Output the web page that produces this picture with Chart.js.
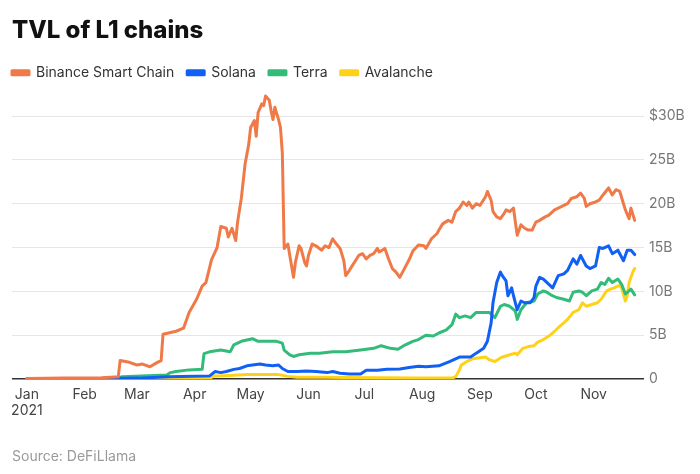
<!DOCTYPE html>
<html>
<head>
<meta charset="utf-8">
<script src="https://cdn.jsdelivr.net/npm/chart.js@4.4.1/dist/chart.umd.min.js"></script>
<style>
  body { margin: 0; background: #fff; }
  #wrap { position: relative; width: 700px; height: 474px; }
  #source {
    position: absolute; left: 12px; top: 447px;
    font: 14px Inter, "Noto Sans", sans-serif; color: #9a9a9a;
  }
</style>
</head>
<body>
<div id="wrap">
  <canvas id="myChart" width="700" height="474"></canvas>
  <div id="source">Source: DeFiLlama</div>
</div>
<script>
// points are [day since 1 Jan 2021, TVL in $B]
const bscPoints = [
  [0,0.05],[20,0.1],[40,0.15],[49,0.25],[50,2.1],[55,1.9],[59,1.6],[62,1.7],[66,1.4],[70,1.9],
  [72,2.1],[73,5.1],[80,5.45],[84,5.8],[87,7.6],[91,9.1],[94,10.6],[96,11.0],[99,13.6],[102,15.0],
  [104,17.4],[107,17.2],[108,16.2],[110,17.2],[112,15.8],[113,17.9],[115,20.6],[117,24.5],[119,26.8],[120,28.7],
  [122,29.5],[123,27.7],[124,30.4],[126,31.4],[127,31.2],[128,32.3],[130,31.8],[131,30.6],[132,29.6],[133,31.0],
  [135,29.6],[136,28.7],[137,25.8],[138,14.9],[140,15.4],[141,14.1],[143,11.6],[144,13.3],[146,15.2],[147,14.9],
  [149,13.3],[150,12.9],[151,14.1],[153,15.4],[155,15.2],[158,14.7],[160,15.2],[162,15.0],[164,16.0],[166,15.4],
  [168,14.9],[170,13.5],[171,11.8],[173,12.4],[175,13.1],[178,14.1],[180,14.3],[182,13.7],[184,14.1],[186,14.3],
  [188,14.9],[189,14.5],[192,14.9],[194,13.7],[196,12.6],[198,12.2],[200,11.6],[202,12.4],[205,13.6],[207,14.6],
  [210,15.3],[213,15.2],[214,14.9],[217,16.0],[220,16.6],[221,17.0],[223,17.7],[226,18.1],[228,17.9],[230,19.1],
  [232,19.5],[234,20.2],[236,19.8],[237,20.2],[239,19.5],[241,20.0],[243,19.8],[246,20.8],[247,21.4],[249,20.4],
  [250,19.1],[252,18.5],[254,18.3],[256,18.9],[257,19.3],[259,19.1],[261,19.5],[262,17.9],[263,16.4],[265,17.6],
  [267,17.2],[269,17.0],[271,17.0],[273,17.9],[275,18.1],[278,18.5],[280,18.7],[283,19.3],[285,19.5],[288,19.8],
  [290,20.0],[292,20.6],[295,20.8],[297,21.2],[299,20.6],[300,19.7],[302,20.0],[305,20.2],[307,20.4],[309,21.0],
  [312,21.8],[314,21.0],[316,21.6],[318,21.4],[320,20.0],[321,19.3],[323,18.3],[324,19.5],[326,18.1]
];

const solanaPoints = [
  [0,0.02],[40,0.05],[60,0.1],[76,0.25],[90,0.3],[98,0.35],[101,0.85],[104,0.73],[107,0.85],[111,1.1],
  [114,1.2],[118,1.5],[121,1.6],[125,1.7],[128,1.6],[132,1.5],[135,1.6],[137,1.2],[140,0.85],[145,0.85],
  [150,0.9],[155,0.85],[161,0.73],[164,0.85],[168,0.65],[173,0.58],[179,0.58],[182,1.0],[188,1.0],[193,1.1],
  [200,1.15],[205,1.3],[210,1.45],[214,1.4],[221,1.5],[227,2.0],[232,2.5],[238,2.5],[241,2.95],[245,3.5],
  [247,4.3],[249,6.4],[250,8.7],[252,11.0],[254,12.2],[255,11.8],[257,11.2],[258,9.5],[260,10.4],[261,9.5],
  [263,7.9],[265,8.9],[267,8.7],[270,8.7],[272,9.3],[273,10.6],[275,11.6],[277,11.4],[280,10.8],[282,10.4],
  [285,11.8],[288,12.0],[290,12.4],[293,13.7],[295,13.1],[297,14.1],[300,12.9],[302,12.6],[305,12.9],[307,15.0],
  [309,14.9],[312,15.2],[314,14.3],[317,14.7],[320,13.5],[322,14.7],[324,14.7],[326,14.2]
];

const terraPoints = [
  [0,0.02],[49,0.05],[51,0.27],[75,0.45],[77,0.73],[80,0.85],[87,1.04],[94,1.1],[95,2.9],[98,3.1],
  [104,3.3],[109,3.1],[111,3.9],[115,4.3],[121,4.6],[124,4.3],[129,4.3],[134,4.3],[137,4.1],[138,3.3],
  [141,2.76],[143,2.57],[146,2.76],[152,2.95],[157,2.95],[164,3.1],[171,3.1],[179,3.3],[186,3.5],[190,3.8],
  [195,3.5],[199,3.4],[203,3.9],[207,4.3],[210,4.5],[214,5.0],[218,4.9],[221,5.25],[225,5.6],[228,6.2],
  [230,7.4],[232,7.0],[235,7.2],[238,7.0],[241,7.6],[245,7.6],[248,7.6],[251,7.0],[254,8.3],[256,8.5],
  [259,8.3],[262,7.75],[263,6.8],[265,7.9],[268,8.7],[272,8.9],[274,9.7],[277,10.05],[279,9.9],[281,9.6],
  [284,9.3],[288,9.1],[291,8.9],[293,9.9],[296,10.05],[298,9.9],[300,9.5],[303,10.05],[306,10.25],[308,11.0],
  [310,10.8],[312,11.5],[314,11.0],[317,11.4],[319,10.8],[321,9.7],[323,10.05],[324,10.25],[326,9.6]
];

const avalanchePoints = [
  [0,0],[98,0],[100,0.35],[103,0.35],[111,0.43],[118,0.5],[130,0.5],[135,0.5],[140,0.3],[145,0.2],
  [160,0.2],[170,0.18],[190,0.15],[210,0.12],[228,0.1],[230,0.27],[232,1.04],[233,1.6],[236,2.0],[239,2.3],
  [242,2.4],[246,2.5],[248,2.2],[251,2.0],[254,2.4],[256,2.57],[259,2.76],[262,2.95],[263,2.76],[266,3.5],
  [269,3.7],[272,3.8],[274,4.2],[277,4.5],[280,4.9],[282,5.25],[285,5.85],[288,6.4],[290,6.8],[293,7.6],
  [296,7.9],[298,8.7],[300,8.3],[303,8.5],[306,8.7],[308,9.1],[311,10.05],[313,10.25],[315,10.4],[318,10.7],
  [319,10.4],[321,8.9],[322,9.5],[323,11.0],[325,12.2],[326,12.6]
];

const seriesNames = ['Binance Smart Chain', 'Solana', 'Terra', 'Avalanche'];
const seriesColors = ['#f07a47', '#1160f5', '#33bb7a', '#ffd21a'];

// month starts (day of year) and their labels
const monthDays = [0, 31, 59, 90, 120, 151, 181, 212, 243, 273, 304];
const monthLabels = ['Jan', 'Feb', 'Mar', 'Apr', 'May', 'Jun', 'Jul', 'Aug', 'Sep', 'Oct', 'Nov'];
const yTicks = [0, 5, 10, 15, 20, 25, 30];

const allPoints = [bscPoints, solanaPoints, terraPoints, avalanchePoints];

const legendPad = 13;

// pull the legend flush with the title instead of starting one padding in
const legendShift = {
  id: 'legendShift',
  afterLayout: function(chart) {
    chart.legend.left -= legendPad;
    chart.legend.right -= legendPad;
  }
};

const ctx = document.getElementById('myChart').getContext('2d');
new Chart(ctx, {
  type: 'line',
  data: {
    datasets: allPoints.map(function(pts, i) {
      return {
        label: seriesNames[i],
        data: pts.map(p => ({x: p[0], y: p[1]})),
        borderColor: seriesColors[i],
        backgroundColor: seriesColors[i],
        borderWidth: 3,
        pointRadius: 0,
        tension: 0,
        borderJoinStyle: 'round',
        borderCapStyle: 'round'
      };
    })
  },
  plugins: [legendShift],
  options: {
    responsive: false,
    animation: false,
    layout: { padding: { left: 12, right: 0, top: 0, bottom: 0 } },
    plugins: {
      title: {
        display: true,
        text: 'TVL of L1 chains',
        align: 'start',
        color: '#111',
        font: { family: 'Inter', size: 24, weight: 800 },
        padding: { top: 16, bottom: 8 }
      },
      legend: {
        display: true,
        align: 'start',
        labels: {
          color: '#333',
          font: { family: 'Inter', size: 14 },
          boxWidth: 17,
          boxHeight: 4,
          padding: legendPad
        }
      },
      tooltip: { enabled: false }
    },
    scales: {
      x: {
        type: 'linear',
        min: -8,
        max: 331,
        grid: { display: false, drawTicks: false },
        border: { display: false },
        afterBuildTicks: function(axis) {
          axis.ticks = monthDays.map(d => ({value: d}));
        },
        afterFit: function(axis) { axis.height = 95; },
        ticks: {
          color: '#444',
          font: { family: 'Inter', size: 14 },
          padding: 7,
          maxRotation: 0,
          autoSkip: false,
          callback: function(value) {
            const i = monthDays.indexOf(value);
            if (i === 0) return ['Jan', '2021'];
            return monthLabels[i];
          }
        }
      },
      y: {
        position: 'right',
        min: 0,
        max: 33,
        afterBuildTicks: function(axis) {
          axis.ticks = yTicks.map(v => ({value: v}));
        },
        afterFit: function(axis) { axis.width = 56; },
        grid: {
          color: function(c) { return c.tick && c.tick.value === 0 ? '#333' : '#e6e6e6'; },
          lineWidth: function(c) { return c.tick && c.tick.value === 0 ? 1.5 : 1; },
          drawTicks: false
        },
        border: { display: false },
        ticks: {
          color: '#777',
          font: { family: 'Inter', size: 14 },
          padding: 5,
          callback: function(value) {
            if (value === 0) return '0';
            if (value === 30) return '$30B';
            return value + 'B';
          }
        }
      }
    }
  }
});
</script>
</body>
</html>
